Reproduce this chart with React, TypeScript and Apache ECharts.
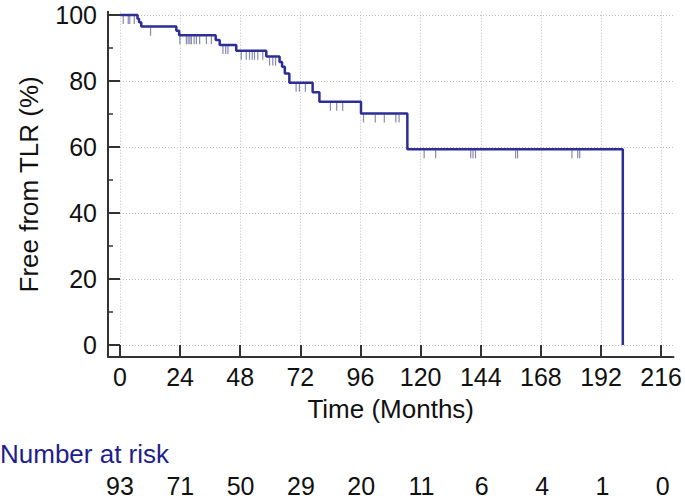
import React, { useEffect, useRef } from "react";
import * as echarts from "echarts";

const xTicks = [0, 24, 48, 72, 96, 120, 144, 168, 192, 216];
const yTicks = [0, 20, 40, 60, 80, 100];
const yMinorTicks = [10, 30, 50, 70, 90];
const atRisk = [93, 71, 50, 29, 20, 11, 6, 4, 1, 0];

const stepTimes = [0, 7.0, 7.6, 8.5, 22.5, 23.6, 38.2, 39.8, 46.4, 58.4, 63.7, 64.7, 65.8, 67.6, 76.9, 79.6, 96.2, 114.7, 200.7];
const stepSurvival = [100, 98.9, 97.8, 96.5, 95.2, 93.9, 92.4, 90.9, 89.2, 87.4, 85.8, 84.3, 82.3, 79.5, 76.6, 73.7, 70.2, 59.3, 0];

const censorTimes = [
  1.3, 3.3, 3.9, 5.7, 12.2, 23.9, 26.5, 27.2, 27.9, 28.5, 29.6, 30.5, 31.8, 34.5, 36.5,
  41.1, 42.2, 43.1, 48.4, 50.4, 51.7, 52.8, 53.7, 55.0, 57.0, 59.7, 61.0, 62.1,
  70.3, 71.6, 74.0, 84.0, 86.5, 88.9, 97.2, 101.9, 105.5, 110.1, 111.4,
  121.4, 126.0, 140.0, 140.9, 141.9, 157.9, 158.7, 180.4, 182.7, 183.5,
];

function survivalAt(t: number): number {
  let s = stepSurvival[0];
  for (let i = 0; i < stepTimes.length; i++) {
    if (stepTimes[i] <= t) s = stepSurvival[i];
  }
  return s;
}

const FONT = "'Liberation Sans', Arial, sans-serif";
const AXIS = "#333333";
const TICK_FS = 25;
const TITLE_FS = 26;

export default function App() {
  const ref = useRef<HTMLDivElement>(null);
  useEffect(() => {
    if (!ref.current) return;
    const chart = echarts.init(ref.current, null, { renderer: "svg" });
    const X_MIN = -4.78;
    const X_MAX = 220.9;
    const Y_MIN = -3.6;
    const Y_MAX = 101;
    const gridLine = { show: true, lineStyle: { type: [1, 2], color: "#bdbdbd", width: 1 } };
    chart.setOption({
      animation: false,
      backgroundColor: "#ffffff",
      title: {
        text: "Number at risk",
        left: 0,
        top: 441,
        padding: 0,
        textStyle: { color: "#1e1e8c", fontSize: TITLE_FS, fontWeight: "normal", fontFamily: FONT },
      },
      grid: [
        { left: 108, right: 10, top: 11.7, bottom: 142 },
        { left: 108, right: 10, top: 470, height: 1 },
      ],
      xAxis: [
        {
          type: "value",
          gridIndex: 0,
          min: X_MIN,
          max: X_MAX,
          axisLine: { show: true, onZero: false, lineStyle: { color: AXIS, width: 2 } },
          axisTick: { show: true, inside: true, length: 12, customValues: xTicks, lineStyle: { color: AXIS, width: 2 } },
          axisLabel: { customValues: xTicks, fontSize: TICK_FS, color: "#111", margin: 7, fontFamily: FONT },
          splitLine: gridLine,
          name: "Time (Months)",
          nameLocation: "middle",
          nameGap: 39,
          nameTextStyle: { fontSize: TITLE_FS, color: "#111", fontFamily: FONT },
        },
        {
          type: "value",
          gridIndex: 1,
          min: X_MIN,
          max: X_MAX,
          axisLine: { show: false },
          axisTick: { show: false, customValues: xTicks },
          splitLine: { show: false },
          axisLabel: {
            customValues: xTicks,
            fontSize: TICK_FS,
            color: "#111",
            margin: 2,
            fontFamily: FONT,
            formatter: (v: number) => String(atRisk[xTicks.indexOf(v)]),
          },
        },
      ],
      yAxis: [
        {
          type: "value",
          gridIndex: 0,
          position: "left",
          min: Y_MIN,
          max: Y_MAX,
          axisLine: { show: true, onZero: false, lineStyle: { color: AXIS, width: 2 } },
          axisTick: { show: true, inside: true, length: 12, customValues: yTicks, lineStyle: { color: AXIS, width: 2 } },
          axisLabel: { customValues: yTicks, fontSize: TICK_FS, color: "#111", margin: 11, fontFamily: FONT },
          splitLine: gridLine,
          name: "Free from TLR (%)",
          nameLocation: "middle",
          nameRotate: 90,
          nameGap: 66,
          nameTextStyle: { fontSize: TITLE_FS, color: "#111", fontFamily: FONT },
        },
        {
          type: "value",
          gridIndex: 0,
          position: "left",
          offset: 0,
          min: Y_MIN,
          max: Y_MAX,
          axisLine: { show: false, onZero: false },
          axisTick: { show: true, inside: true, length: 5, customValues: yMinorTicks, lineStyle: { color: AXIS, width: 1.5 } },
          axisLabel: { show: false },
          splitLine: { show: false },
        },
        { type: "value", gridIndex: 1, show: false },
      ],
      series: [
        {
          type: "line",
          xAxisIndex: 0,
          yAxisIndex: 0,
          step: "end",
          symbol: "none",
          lineStyle: { color: "#2d2d96", width: 2.5 },
          data: stepTimes.map((t, i) => [t, stepSurvival[i]]),
          z: 3,
        },
        {
          type: "scatter",
          xAxisIndex: 0,
          yAxisIndex: 0,
          symbol: "rect",
          symbolSize: [1.2, 8],
          symbolOffset: [0, 5],
          itemStyle: { color: "#6a6a9c" },
          data: censorTimes.map((t) => [t, survivalAt(t)]),
          z: 2,
        },
      ],
    });
    return () => chart.dispose();
  }, []);
  return <div ref={ref} style={{ width: 685, height: 499, position: "absolute", left: 0, top: 0 }} />;
}
